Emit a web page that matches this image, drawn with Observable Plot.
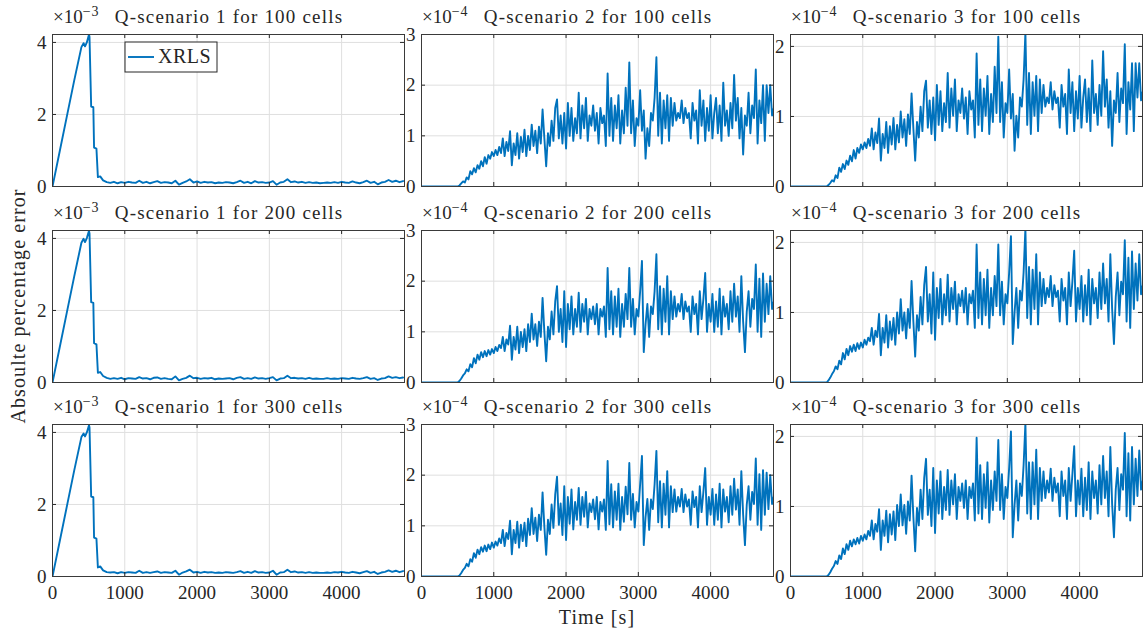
<!DOCTYPE html>
<html><head><meta charset="utf-8">
<script src="https://cdn.jsdelivr.net/npm/d3@7"></script>
<script src="https://cdn.jsdelivr.net/npm/@observablehq/plot@0.6"></script>
<style>
body{margin:0;background:#fff;}
#root{position:relative;width:1145px;height:635px;overflow:hidden;font-family:"Liberation Serif",serif;color:#262626;}
.panel{position:absolute;}
.panel svg{overflow:visible;}
.lab{position:absolute;font-family:"Liberation Serif",serif;font-size:20px;letter-spacing:1.1px;color:#262626;white-space:nowrap;}
</style></head><body><div id="root"></div>
<script>
// ---- data ----
const cells = ["100", "200", "300"];
const scenarios = [1, 2, 3];
const exponents = ["3", "4", "4"];          // axis multiplier ×10^-n per column
const yMax = [4.22, 3, 2.17];
const yTicks = [[0, 2, 4], [0, 1, 2, 3], [0, 1, 2]];
const xTicks = [0, 1000, 2000, 3000, 4000];
const xMax = 4870;
const legendLabel = "XRLS";
const xLabel = "Time [s]";
const yLabel = "Absoulte percentage error";

// Q-scenario 1 (×1e-3): time stamps of first samples, then every 50 s from 750 s
const s1HeadT = [0,100,200,300,400,430,450,475,505,512,535,565,575,608,628,660,700];
const S1_100 = [0,0.98,1.96,2.94,3.87,3.98,3.89,4.00,4.22,4.15,2.22,2.20,1.08,1.05,0.26,0.28,0.17,
0.12,0.10,0.13,0.09,0.12,0.10,0.13,0.11,0.10,0.16,0.10,0.13,0.09,0.12,0.15,0.10,0.12,0.11,0.09,0.16,
0.05,0.10,0.14,0.20,0.11,0.14,0.10,0.13,0.11,0.12,0.09,0.11,0.10,0.12,0.11,0.09,0.12,0.16,0.10,0.13,
0.09,0.15,0.11,0.12,0.10,0.11,0.15,0.05,0.11,0.13,0.20,0.12,0.14,0.11,0.13,0.10,0.12,0.10,0.11,0.09,
0.10,0.11,0.10,0.12,0.10,0.13,0.11,0.10,0.14,0.11,0.09,0.12,0.16,0.10,0.13,0.06,0.11,0.13,0.18,0.13,0.16,0.12,0.15];
const S1_200 = [0,0.98,1.96,2.94,3.88,3.99,3.90,4.01,4.21,4.14,2.23,2.21,1.09,1.06,0.27,0.29,0.18,
0.13,0.10,0.12,0.10,0.13,0.09,0.12,0.11,0.10,0.15,0.11,0.12,0.09,0.13,0.14,0.10,0.12,0.10,0.09,0.17,
0.06,0.10,0.13,0.19,0.12,0.13,0.10,0.12,0.11,0.13,0.09,0.11,0.10,0.11,0.12,0.09,0.13,0.15,0.10,0.12,
0.10,0.14,0.11,0.12,0.10,0.12,0.15,0.06,0.11,0.12,0.19,0.12,0.13,0.11,0.12,0.10,0.13,0.10,0.11,0.10,
0.10,0.12,0.10,0.11,0.10,0.12,0.11,0.10,0.13,0.11,0.10,0.12,0.15,0.10,0.12,0.07,0.11,0.12,0.17,0.13,0.15,0.12,0.14];
const S1_300 = [0,0.98,1.96,2.94,3.87,3.97,3.89,4.00,4.20,4.14,2.22,2.20,1.08,1.05,0.25,0.28,0.17,
0.12,0.11,0.12,0.09,0.12,0.10,0.12,0.11,0.10,0.16,0.10,0.12,0.10,0.12,0.14,0.10,0.12,0.11,0.10,0.16,
0.05,0.11,0.14,0.19,0.11,0.13,0.10,0.13,0.11,0.12,0.10,0.11,0.10,0.12,0.11,0.10,0.12,0.15,0.10,0.13,
0.10,0.15,0.11,0.12,0.10,0.11,0.16,0.05,0.11,0.12,0.19,0.12,0.14,0.11,0.12,0.10,0.12,0.10,0.11,0.10,
0.10,0.11,0.10,0.12,0.11,0.13,0.11,0.10,0.13,0.11,0.09,0.12,0.15,0.10,0.13,0.07,0.11,0.13,0.17,0.13,0.16,0.12,0.15];

// Q-scenario 2 (×1e-4): 0 at t=0, then samples every 25 s from 500 s
const S2_100 = [0.00,0.02,0.06,0.10,0.08,0.18,0.14,0.30,0.24,0.36,0.28,0.42,0.35,0.50,0.40,0.58,0.45,0.62,0.55,0.68,0.60,0.72,0.62,0.78,0.66,0.95,0.60,0.88,0.70,1.09,0.42,0.85,0.62,1.05,0.55,0.98,0.68,1.12,0.60,1.00,0.72,1.22,0.80,1.10,0.66,1.18,0.85,1.52,0.95,0.40,1.05,0.80,1.30,0.90,1.55,1.72,0.95,1.40,0.85,1.45,0.75,1.65,1.00,1.55,0.90,1.35,1.05,1.85,0.95,1.60,1.15,1.75,0.90,1.40,1.20,1.60,1.10,1.45,0.85,1.55,1.25,1.40,0.80,2.23,1.00,1.75,0.90,1.60,1.15,1.80,0.85,1.50,1.05,1.95,1.20,2.45,1.05,1.70,0.80,1.35,1.20,1.90,1.10,1.50,0.55,1.15,0.80,1.45,1.30,1.75,2.55,1.00,1.85,0.85,1.70,1.15,1.80,0.90,1.75,1.20,1.65,1.30,1.45,1.35,1.70,1.25,1.55,1.35,1.45,0.95,1.65,1.30,1.50,0.85,1.90,1.20,1.70,0.90,1.55,1.10,1.80,0.95,1.45,1.75,1.05,1.60,0.90,2.05,1.20,1.50,1.00,1.65,1.15,2.20,1.30,1.75,0.95,1.55,0.63,1.40,1.20,1.85,1.05,1.60,1.35,2.31,0.85,1.70,1.25,2.00,0.90,2.00,1.45,2.00,1.40,1.55];
const S2_200 = [0.00,0.03,0.08,0.14,0.18,0.26,0.22,0.36,0.30,0.48,0.38,0.55,0.45,0.60,0.50,0.62,0.52,0.64,0.55,0.66,0.58,0.70,0.62,0.74,0.68,0.90,0.62,0.85,0.75,1.12,0.45,0.90,0.65,1.10,0.58,1.00,0.70,1.05,0.62,1.15,0.80,1.36,0.85,1.15,0.72,1.20,0.90,1.67,1.00,0.42,1.10,0.85,1.40,0.95,1.60,1.90,1.00,1.45,0.80,1.80,0.70,1.55,1.05,1.70,0.95,1.45,1.10,1.77,1.00,1.55,1.20,1.65,0.95,1.45,1.25,1.50,1.15,1.55,0.95,1.45,1.30,1.50,0.90,2.26,1.05,1.80,0.95,1.70,1.10,1.85,0.90,1.55,1.10,1.75,1.25,2.26,1.10,1.65,0.95,1.45,1.30,1.80,2.40,0.60,1.15,1.55,0.90,1.50,1.35,1.80,2.53,1.05,1.90,0.95,1.85,1.20,2.10,0.95,1.80,1.25,1.70,1.30,1.55,1.40,1.75,1.25,1.60,1.40,1.50,1.00,1.70,1.35,1.55,0.95,1.80,1.25,1.65,2.16,1.00,1.55,1.20,1.75,1.00,1.60,1.10,1.85,0.95,1.70,1.30,1.55,1.05,1.80,1.20,1.95,1.30,1.70,1.00,2.10,1.20,0.60,1.40,1.80,1.10,1.65,1.45,2.33,1.00,2.05,0.90,2.15,1.20,1.95,1.35,2.10,1.45,1.60];
const S2_300 = [0.00,0.02,0.07,0.13,0.17,0.25,0.20,0.34,0.29,0.46,0.37,0.53,0.44,0.58,0.49,0.61,0.50,0.63,0.54,0.67,0.57,0.69,0.61,0.75,0.66,0.92,0.60,0.86,0.74,1.10,0.44,0.92,0.66,1.08,0.57,1.02,0.70,1.06,0.60,1.14,0.82,1.35,0.84,1.16,0.70,1.22,0.92,1.66,0.98,0.43,1.12,0.84,1.42,0.96,1.62,1.97,1.02,1.44,0.82,1.78,0.72,1.57,1.04,1.72,0.93,1.47,1.12,1.75,1.02,1.57,1.18,1.67,0.97,1.44,1.27,1.52,1.13,1.57,0.93,1.47,1.28,1.52,0.92,2.28,1.03,1.82,0.97,1.68,1.12,1.83,0.92,1.57,1.08,1.77,1.23,2.24,1.12,1.63,0.97,1.47,1.28,1.82,2.38,0.62,1.17,1.53,0.92,1.52,1.33,1.82,2.48,1.07,1.88,0.97,1.83,1.22,2.08,0.97,1.78,1.27,1.72,1.28,1.57,1.38,1.73,1.27,1.62,1.38,1.52,1.02,1.68,1.37,1.57,0.97,1.78,1.27,1.67,2.14,1.02,1.57,1.22,1.73,1.02,1.62,1.12,1.83,0.97,1.72,1.28,1.57,1.07,1.78,1.22,1.93,1.32,1.72,1.02,2.08,1.22,0.62,1.42,1.78,1.12,1.67,1.43,2.33,1.02,2.02,0.92,2.10,1.22,2.05,1.33,2.00,1.43,1.58];

// Q-scenario 3 (×1e-4): same sampling as scenario 2
const S3_100 = [0.00,0.02,0.05,0.09,0.07,0.16,0.12,0.27,0.21,0.32,0.25,0.37,0.31,0.44,0.36,0.52,0.40,0.55,0.48,0.60,0.53,0.63,0.55,0.68,0.58,0.83,0.53,0.77,0.62,0.97,0.37,0.75,0.55,0.92,0.48,0.86,0.60,0.98,0.53,0.88,0.63,1.07,0.70,0.96,0.58,1.03,0.75,1.33,0.83,0.37,0.92,0.70,1.14,0.79,1.36,1.51,0.84,1.23,0.75,1.27,0.66,1.45,0.88,1.36,0.79,1.19,0.92,1.62,0.84,1.40,1.01,1.53,0.79,1.23,1.05,1.40,0.97,1.27,0.75,1.36,1.10,1.23,0.70,1.90,0.88,1.53,0.79,1.40,1.01,1.58,0.75,1.32,0.92,1.71,1.05,2.14,0.92,1.49,0.70,1.19,1.05,1.67,0.97,1.32,0.51,1.01,0.70,1.27,1.14,1.53,2.20,0.88,1.62,0.75,1.49,1.01,1.58,0.79,1.53,1.05,1.45,1.14,1.27,1.19,1.49,1.10,1.36,1.19,1.27,0.84,1.45,1.14,1.32,0.75,1.67,1.05,1.49,0.79,1.36,0.97,1.58,0.84,1.27,1.53,0.92,1.40,0.79,1.80,1.05,1.32,0.88,1.45,1.01,1.93,1.14,1.53,0.84,1.36,0.58,1.23,1.05,1.62,0.92,1.40,1.19,2.03,0.75,1.49,1.10,1.76,0.79,1.76,1.27,1.76,1.23,1.36];
const S3_200 = [0.00,0.03,0.07,0.12,0.16,0.23,0.19,0.31,0.26,0.42,0.33,0.48,0.39,0.52,0.44,0.54,0.45,0.56,0.48,0.57,0.50,0.61,0.54,0.64,0.59,0.78,0.54,0.74,0.65,0.98,0.39,0.78,0.57,0.96,0.50,0.87,0.61,0.92,0.54,1.00,0.70,1.19,0.74,1.00,0.63,1.05,0.78,1.45,0.87,0.37,0.96,0.74,1.22,0.83,1.39,1.65,0.87,1.26,0.70,1.57,0.61,1.35,0.92,1.48,0.83,1.26,0.96,1.54,0.87,1.35,1.05,1.44,0.83,1.26,1.09,1.31,1.00,1.35,0.83,1.26,1.13,1.31,0.78,1.97,0.92,1.57,0.83,1.48,0.96,1.61,0.78,1.35,0.96,1.52,1.09,1.97,0.96,1.44,0.83,1.26,1.13,1.57,2.09,0.55,1.00,1.35,0.78,1.31,1.17,1.57,2.20,0.92,1.65,0.83,1.61,1.05,1.83,0.83,1.57,1.09,1.48,1.13,1.35,1.22,1.52,1.09,1.39,1.22,1.31,0.87,1.48,1.17,1.35,0.83,1.57,1.09,1.44,1.88,0.87,1.35,1.05,1.52,0.87,1.39,0.96,1.61,0.83,1.48,1.13,1.35,0.92,1.57,1.05,1.70,1.13,1.48,0.87,1.83,1.05,0.55,1.22,1.57,0.96,1.44,1.26,2.03,0.87,1.78,0.78,1.87,1.05,1.70,1.17,1.83,1.26,1.39];
const S3_300 = [0.00,0.02,0.06,0.11,0.15,0.22,0.18,0.30,0.25,0.40,0.32,0.46,0.38,0.51,0.43,0.53,0.46,0.55,0.47,0.58,0.51,0.60,0.53,0.65,0.58,0.80,0.53,0.75,0.64,0.96,0.38,0.80,0.58,0.94,0.49,0.89,0.60,0.93,0.52,1.02,0.72,1.17,0.73,1.02,0.61,1.07,0.80,1.44,0.85,0.36,0.98,0.73,1.24,0.82,1.41,1.68,0.88,1.24,0.72,1.55,0.62,1.37,0.90,1.50,0.82,1.28,0.95,1.52,0.88,1.37,1.03,1.46,0.82,1.28,1.08,1.33,0.98,1.37,0.82,1.28,1.12,1.33,0.80,1.98,0.90,1.59,0.82,1.46,0.98,1.63,0.77,1.37,0.95,1.50,1.08,1.95,0.95,1.46,0.82,1.28,1.12,1.55,2.07,0.56,1.02,1.37,0.80,1.33,1.15,1.59,2.19,0.90,1.63,0.82,1.63,1.03,1.81,0.82,1.55,1.08,1.50,1.12,1.37,1.20,1.54,1.08,1.41,1.20,1.33,0.86,1.50,1.15,1.37,0.82,1.55,1.08,1.46,1.86,0.86,1.37,1.03,1.54,0.86,1.41,0.95,1.63,0.82,1.50,1.12,1.37,0.90,1.59,1.03,1.72,1.12,1.50,0.86,1.85,1.03,0.56,1.24,1.55,0.95,1.46,1.24,2.05,0.86,1.76,0.80,1.85,1.03,1.68,1.15,1.80,1.24,1.37];

const series = [[S1_100, S2_100, S3_100], [S1_200, S2_200, S3_200], [S1_300, S2_300, S3_300]];

// ---- layout ----
const colLeft = [52, 421, 790];
const rowTop = [34, 230, 424];
const pw = 352, ph = 152;
const mL = 45, mR = 25, mT = 34, mB = 40;
const ink = "#262626", lineColor = "#0072BD", gridColor = "#dfdfdf", font = "Liberation Serif, serif";

function rows(col, vals) {
  if (col === 0) return vals.map((v, i) => ({t: i < s1HeadT.length ? s1HeadT[i] : 750 + 50 * (i - s1HeadT.length), v}));
  return [{t: 0, v: 0}].concat(vals.map((v, i) => ({t: 500 + 25 * i, v})));
}

const root = document.getElementById("root");
for (let r = 0; r < 3; r++) {
  for (let c = 0; c < 3; c++) {
    const data = rows(c, series[r][c]);
    const svg = Plot.plot({
      width: pw + mL + mR, height: ph + mT + mB,
      marginLeft: mL, marginRight: mR, marginTop: mT, marginBottom: mB,
      style: {background: "transparent", fontFamily: font, fontSize: "19px", color: ink, overflow: "visible"},
      x: {domain: [0, xMax], axis: r === 2 ? "bottom" : null, ticks: xTicks, tickSize: 0, tickPadding: 9, tickFormat: d => String(d), label: null},
      y: {domain: [0, yMax[c]], ticks: yTicks[c], tickSize: 0, tickPadding: 6, tickFormat: d => String(d), label: null},
      marks: [
        Plot.gridX(xTicks, {stroke: gridColor, strokeOpacity: 1}),
        Plot.gridY(yTicks[c], {stroke: gridColor, strokeOpacity: 1}),
        Plot.line(data, {x: "t", y: "v", stroke: lineColor, strokeWidth: 1.9, clip: true}),
        Plot.tickX(xTicks, {x: d => d, insetTop: ph - 4, stroke: ink}),
        Plot.tickX(xTicks, {x: d => d, insetBottom: ph - 4, stroke: ink}),
        Plot.tickY(yTicks[c], {y: d => d, insetRight: pw - 4, stroke: ink}),
        Plot.tickY(yTicks[c], {y: d => d, insetLeft: pw - 4, stroke: ink}),
        Plot.frame({stroke: "#3a3a3a", strokeWidth: 1})
      ]
    });
    const g = d3.select(svg);
    // exponent label
    const ex = g.append("text").attr("x", mL + 1).attr("y", mT - 11).attr("text-anchor", "start")
      .attr("fill", ink).style("font-family", font).style("font-size", "19px");
    ex.append("tspan").text("×10");
    ex.append("tspan").attr("dy", -7).style("font-size", "14px").style("letter-spacing", "1px").text("−" + exponents[c]);
    // title
    g.append("text").attr("x", mL + pw / 2 + 1).attr("y", mT - 11).attr("text-anchor", "middle")
      .attr("fill", ink).style("font-family", font).style("font-size", "19px").style("letter-spacing", "1.2px")
      .text("Q-scenario " + scenarios[c] + " for " + cells[r] + " cells");
    if (r === 0 && c === 0) {
      const lg = g.append("g").attr("transform", `translate(${mL + 73},${mT + 8})`);
      lg.append("rect").attr("width", 92).attr("height", 30).attr("fill", "#fff").attr("stroke", ink).attr("stroke-width", 1);
      lg.append("line").attr("x1", 3).attr("x2", 29).attr("y1", 15).attr("y2", 15).attr("stroke", lineColor).attr("stroke-width", 1.9);
      lg.append("text").attr("x", 33).attr("y", 21).attr("text-anchor", "start").attr("fill", ink)
        .style("font-family", font).style("font-size", "20px").style("letter-spacing", "0.5px").text(legendLabel);
    }
    const div = document.createElement("div");
    div.className = "panel";
    div.style.left = (colLeft[c] - mL) + "px";
    div.style.top = (rowTop[r] - mT) + "px";
    div.style.width = (pw + mL + mR) + "px";
    div.appendChild(svg);
    root.appendChild(div);
  }
}
// shared axis labels
const xl = document.createElement("div");
xl.className = "lab"; xl.textContent = xLabel;
xl.style.left = "597px"; xl.style.top = "606px"; xl.style.transform = "translateX(-50%)";
root.appendChild(xl);
const yl = document.createElement("div");
yl.className = "lab"; yl.textContent = yLabel;
yl.style.left = "18px"; yl.style.top = "306px"; yl.style.transform = "translate(-50%,-50%) rotate(-90deg)";
root.appendChild(yl);
</script>
</body></html>
